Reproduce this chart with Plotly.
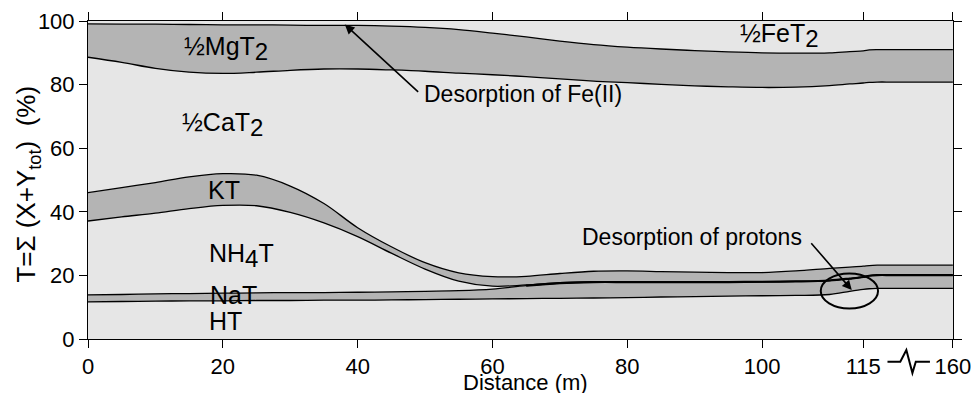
import plotly.graph_objects as go

# ---- data (distance in m, cumulative boundaries in % of T) ----
distance = [0, 5, 10, 15, 20, 25, 30, 35, 40, 45, 50, 55, 60, 65, 70, 75, 80, 85,
            90, 95, 100, 105, 110, 113, 115, 118, 122, 130, 160]
ht_top = [11.7, 11.8, 11.9, 12.0, 12.0, 12.1, 12.1, 12.2, 12.2, 12.3, 12.4, 12.5, 12.6, 12.7,
          12.8, 12.9, 13.0, 13.2, 13.3, 13.5, 13.6, 13.7, 14.0, 15.0, 15.6, 15.8, 15.9, 15.9, 15.9]
nat_top = [13.9, 14.0, 14.2, 14.3, 14.4, 14.5, 14.6, 14.6, 14.7, 14.8, 15.0, 15.2, 15.7, 16.8,
           17.6, 17.9, 17.9, 17.9, 17.9, 17.9, 18.0, 18.1, 18.4, 19.0, 19.5, 19.9, 20.1, 20.1, 20.1]
nh4t_top = [37.1, 38.4, 39.6, 41.0, 42.0, 41.9, 39.8, 36.5, 32.2, 27.0, 22.0, 18.2, 16.6, 17.0,
            17.7, 18.0, 18.0, 17.9, 17.9, 17.9, 18.0, 18.1, 18.4, 19.0, 19.5, 19.9, 20.1, 20.1, 20.1]
kt_top = [46.0, 47.6, 49.2, 51.0, 52.0, 51.5, 48.1, 42.6, 35.0, 29.0, 24.0, 20.8, 19.6, 19.7,
          20.6, 21.3, 21.4, 21.2, 21.0, 20.9, 20.9, 21.4, 22.2, 22.6, 22.9, 23.1, 23.2, 23.2, 23.2]
cat_top = [88.6, 87.0, 85.1, 83.9, 83.5, 83.9, 84.5, 84.9, 84.9, 84.6, 84.2, 83.6, 83.1, 82.5,
           81.8, 81.1, 80.6, 80.1, 79.6, 79.3, 79.1, 79.2, 79.7, 80.2, 80.5, 80.7, 80.8, 80.8, 80.8]
mgt_top = [99.1, 99.0, 99.0, 98.9, 98.8, 98.8, 98.7, 98.6, 98.6, 98.4, 98.0, 97.3, 96.2, 95.0,
           93.7, 92.6, 91.8, 91.2, 90.7, 90.3, 90.0, 89.9, 90.0, 90.4, 90.6, 90.9, 91.0, 91.0, 91.0]
fet_top = [100.0] * len(distance)

tick_distances = [0, 20, 40, 60, 80, 100, 115, 160]
y_ticks = [0, 20, 40, 60, 80, 100]

# broken x axis: beyond 115 m the scale is compressed
BREAK_AT = 115
BREAK_RATIO = 13.3 / 45.0


def sx(d):
    return d if d <= BREAK_AT else BREAK_AT + (d - BREAK_AT) * BREAK_RATIO


xs = [sx(d) for d in distance]

LIGHT = "rgb(230,230,230)"
DARK = "rgb(180,180,180)"
FONT = "Liberation Sans, Arial, Helvetica, sans-serif"

bands = [
    ("HT", ht_top, LIGHT, "tozeroy"),
    ("NaT", nat_top, DARK, "tonexty"),
    ("NH4T", nh4t_top, LIGHT, "tonexty"),
    ("KT", kt_top, DARK, "tonexty"),
    ("CaT", cat_top, LIGHT, "tonexty"),
    ("MgT", mgt_top, DARK, "tonexty"),
    ("FeT", fet_top, LIGHT, "tonexty"),
]

fig = go.Figure()
for name, ys, col, fill in bands:
    fig.add_trace(go.Scatter(
        x=xs, y=ys, name=name, mode="lines", fill=fill, fillcolor=col,
        line=dict(color="black", width=0 if name == "FeT" else 1.3,
                  shape="spline", smoothing=1.0),
        showlegend=False, hoverinfo="skip"))

# where the NH4T band vanishes the two boundary lines merge into one heavier line
merge_idx = [i for i, d in enumerate(distance) if d >= 63]
fig.add_trace(go.Scatter(
    x=[xs[i] for i in merge_idx], y=[nat_top[i] for i in merge_idx], mode="lines",
    line=dict(color="black", width=2.2, shape="spline", smoothing=1.0),
    showlegend=False, hoverinfo="skip"))

x_end = sx(160)
fig.update_layout(
    width=975, height=393,
    margin=dict(l=88, r=22, t=21, b=54),
    paper_bgcolor="white", plot_bgcolor=LIGHT,
    font=dict(family=FONT, size=22, color="black"),
    xaxis=dict(range=[0, x_end + 0.02], tickvals=[sx(v) for v in tick_distances],
               ticktext=[str(v) for v in tick_distances], automargin=False,
               ticks="outside", ticklen=8, tickwidth=1, tickcolor="black",
               showline=True, linecolor="black", linewidth=1, mirror="ticks",
               showgrid=False, zeroline=False, tickfont=dict(size=22)),
    yaxis=dict(range=[0, 100], tickvals=y_ticks, ticks="outside", ticklen=8,
               tickwidth=1, tickcolor="black", showline=True, linecolor="black",
               linewidth=1, mirror="ticks", showgrid=False, zeroline=False,
               automargin=False, tickfont=dict(size=22)),
)


def big_sub(s):
    return '<sub><span style="font-size:24px">%s</span></sub>' % s


# band labels
labels = [
    ("½MgT" + big_sub("2"), 14.0, 91.3),
    ("½FeT" + big_sub("2"), 96.4, 95.3),
    ("½CaT" + big_sub("2"), 13.6, 67.4),
    ("KT", 17.5, 46.7),
    ("NH" + big_sub("4") + "T", 17.6, 26.2),
    ("NaT", 17.8, 13.8),
    ("HT", 17.6, 5.6),
]
for txt, lx, ly in labels:
    fig.add_annotation(x=lx, y=ly, text=txt, showarrow=False, xanchor="left",
                       yanchor="middle", font=dict(size=25, family=FONT))

# Fe(II) desorption
fig.add_annotation(x=sx(49.6), y=77.0, text="Desorption of Fe(II)", showarrow=False,
                   xanchor="left", yanchor="middle", font=dict(size=23, family=FONT))
fig.add_annotation(x=sx(38.1), y=98.9, ax=sx(49.2), ay=77.3, axref="x", ayref="y",
                   text="", showarrow=True, arrowhead=2, arrowsize=1.2, arrowwidth=1.6,
                   arrowcolor="black")

# proton desorption
fig.add_annotation(x=sx(89.6), y=32.2, text="Desorption of protons", showarrow=False,
                   xanchor="center", yanchor="middle", font=dict(size=23, family=FONT))
fig.add_annotation(x=sx(113.3), y=15.4, ax=sx(107.1), ay=30.6, axref="x", ayref="y",
                   text="", showarrow=True, arrowhead=2, arrowsize=1.2, arrowwidth=1.6,
                   arrowcolor="black")
fig.add_shape(type="circle", xref="x", yref="y", x0=108.7, x1=117.2, y0=9.6, y1=20.6,
              line=dict(color="black", width=2))

# axis break symbol between 115 and 160
fig.add_shape(type="path", xref="x", yref="paper",
              path="M 118.6,-0.0714 L 120.5,-0.0714 L 121.4,-0.0346 L 122.3,-0.107 "
                   "L 122.8,-0.0714 L 124.9,-0.0714",
              line=dict(color="black", width=2))

# axis titles
fig.add_annotation(xref="paper", yref="paper", x=0.506, y=-0.138,
                   text="Distance (m)", showarrow=False, xanchor="center",
                   yanchor="middle", font=dict(size=22, family=FONT))
fig.add_annotation(xref="paper", yref="paper", x=-0.07, y=0.487,
                   text="T=Σ (X+Y<sub>tot</sub>)  (%)", showarrow=False, textangle=-90,
                   xanchor="center", yanchor="middle", font=dict(size=26, family=FONT))

fig.write_html("out.html")
